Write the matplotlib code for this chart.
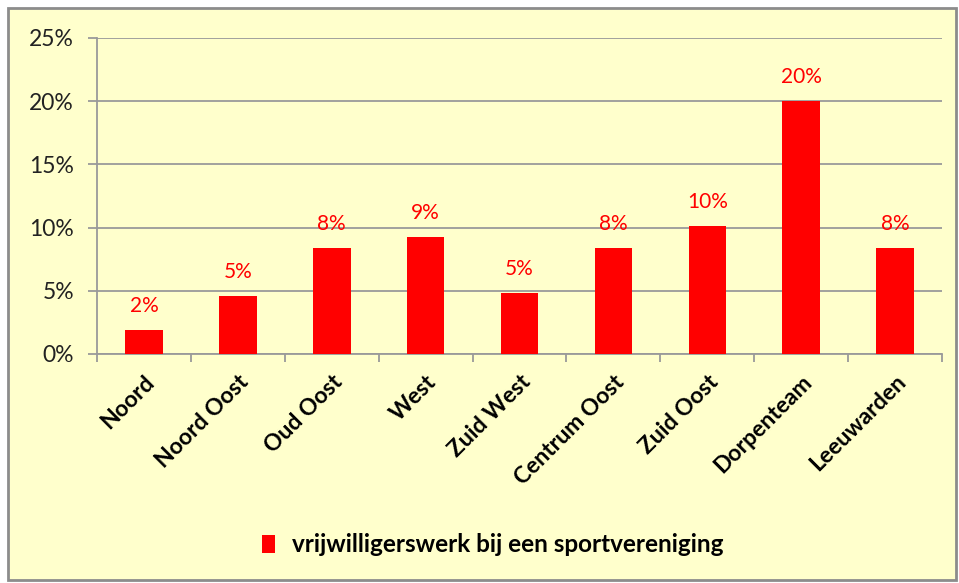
import matplotlib.pyplot as plt
from matplotlib.patches import Patch, Rectangle
from matplotlib.ticker import FixedLocator, PercentFormatter
from matplotlib.transforms import ScaledTranslation

categories = ["Noord", "Noord Oost", "Oud Oost", "West", "Zuid West",
              "Centrum Oost", "Zuid Oost", "Dorpenteam", "Leeuwarden"]
values = [1.9, 4.6, 8.35, 9.25, 4.8, 8.35, 10.15, 20.05, 8.35]
value_labels = ["2%", "5%", "8%", "9%", "5%", "8%", "10%", "20%", "8%"]
series_name = "vrijwilligerswerk bij een sportvereniging"

BG = "#FFFFCC"
RED = "#FF0000"
GRID = "#9A9A9A"

plt.rcParams["font.family"] = ["Lato", "DejaVu Sans"]

fig = plt.figure(figsize=(9.59, 5.83), dpi=100)
fig.patch.set_facecolor("white")
fig.patches.append(Rectangle((8 / 959, 3 / 583), 948 / 959, 572 / 583,
                             transform=fig.transFigure, facecolor=BG,
                             edgecolor="#8C8C8C", linewidth=2, zorder=-10))

ax = fig.add_axes([97 / 959, 1 - 354 / 583, 845 / 959, 316 / 583])
ax.set_facecolor("none")

x = range(len(categories))
ax.bar(x, values, width=0.4, color=RED, zorder=3)
for xi, v, lab in zip(x, values, value_labels):
    ax.annotate(lab, (xi, v), xytext=(0, 14), textcoords="offset pixels",
                ha="center", va="bottom", color=RED, fontsize=15)

ax.set_xlim(-0.5, len(categories) - 0.5)
ax.set_ylim(0, 25)
ax.set_yticks([0, 5, 10, 15, 20, 25])
ax.yaxis.set_major_formatter(PercentFormatter(decimals=0))
ax.grid(axis="y", color=GRID, linewidth=1.3, zorder=1)

ax.set_xticks(list(x))
ax.set_xticklabels(categories, rotation=45, ha="right", va="top",
                   rotation_mode="anchor", fontsize=16.5, fontweight="bold")
shift = ScaledTranslation(5 / 100, 0, fig.dpi_scale_trans)
for lbl in ax.get_xticklabels():
    lbl.set_transform(lbl.get_transform() + shift)
ax.xaxis.set_minor_locator(FixedLocator([i - 0.5 for i in range(len(categories) + 1)]))
ax.tick_params(axis="x", which="major", length=0, pad=12.5)
ax.tick_params(axis="x", which="minor", length=6, color=GRID, width=1.3)
ax.tick_params(axis="y", length=6.5, color=GRID, width=1.3, labelsize=16.5,
               labelcolor="#222222", pad=10)

for side in ["top", "right"]:
    ax.spines[side].set_visible(False)
for side in ["left", "bottom"]:
    ax.spines[side].set_color(GRID)
    ax.spines[side].set_linewidth(1.3)

fig.legend(handles=[Patch(facecolor=RED, label=series_name)],
           loc="center", bbox_to_anchor=(493 / 959, 1 - 545 / 583),
           frameon=False, prop={"size": 17.5, "weight": "bold"},
           handlelength=0.55, handleheight=0.7, handletextpad=0.7)

fig.savefig("out.png", dpi=100, facecolor=fig.get_facecolor())
